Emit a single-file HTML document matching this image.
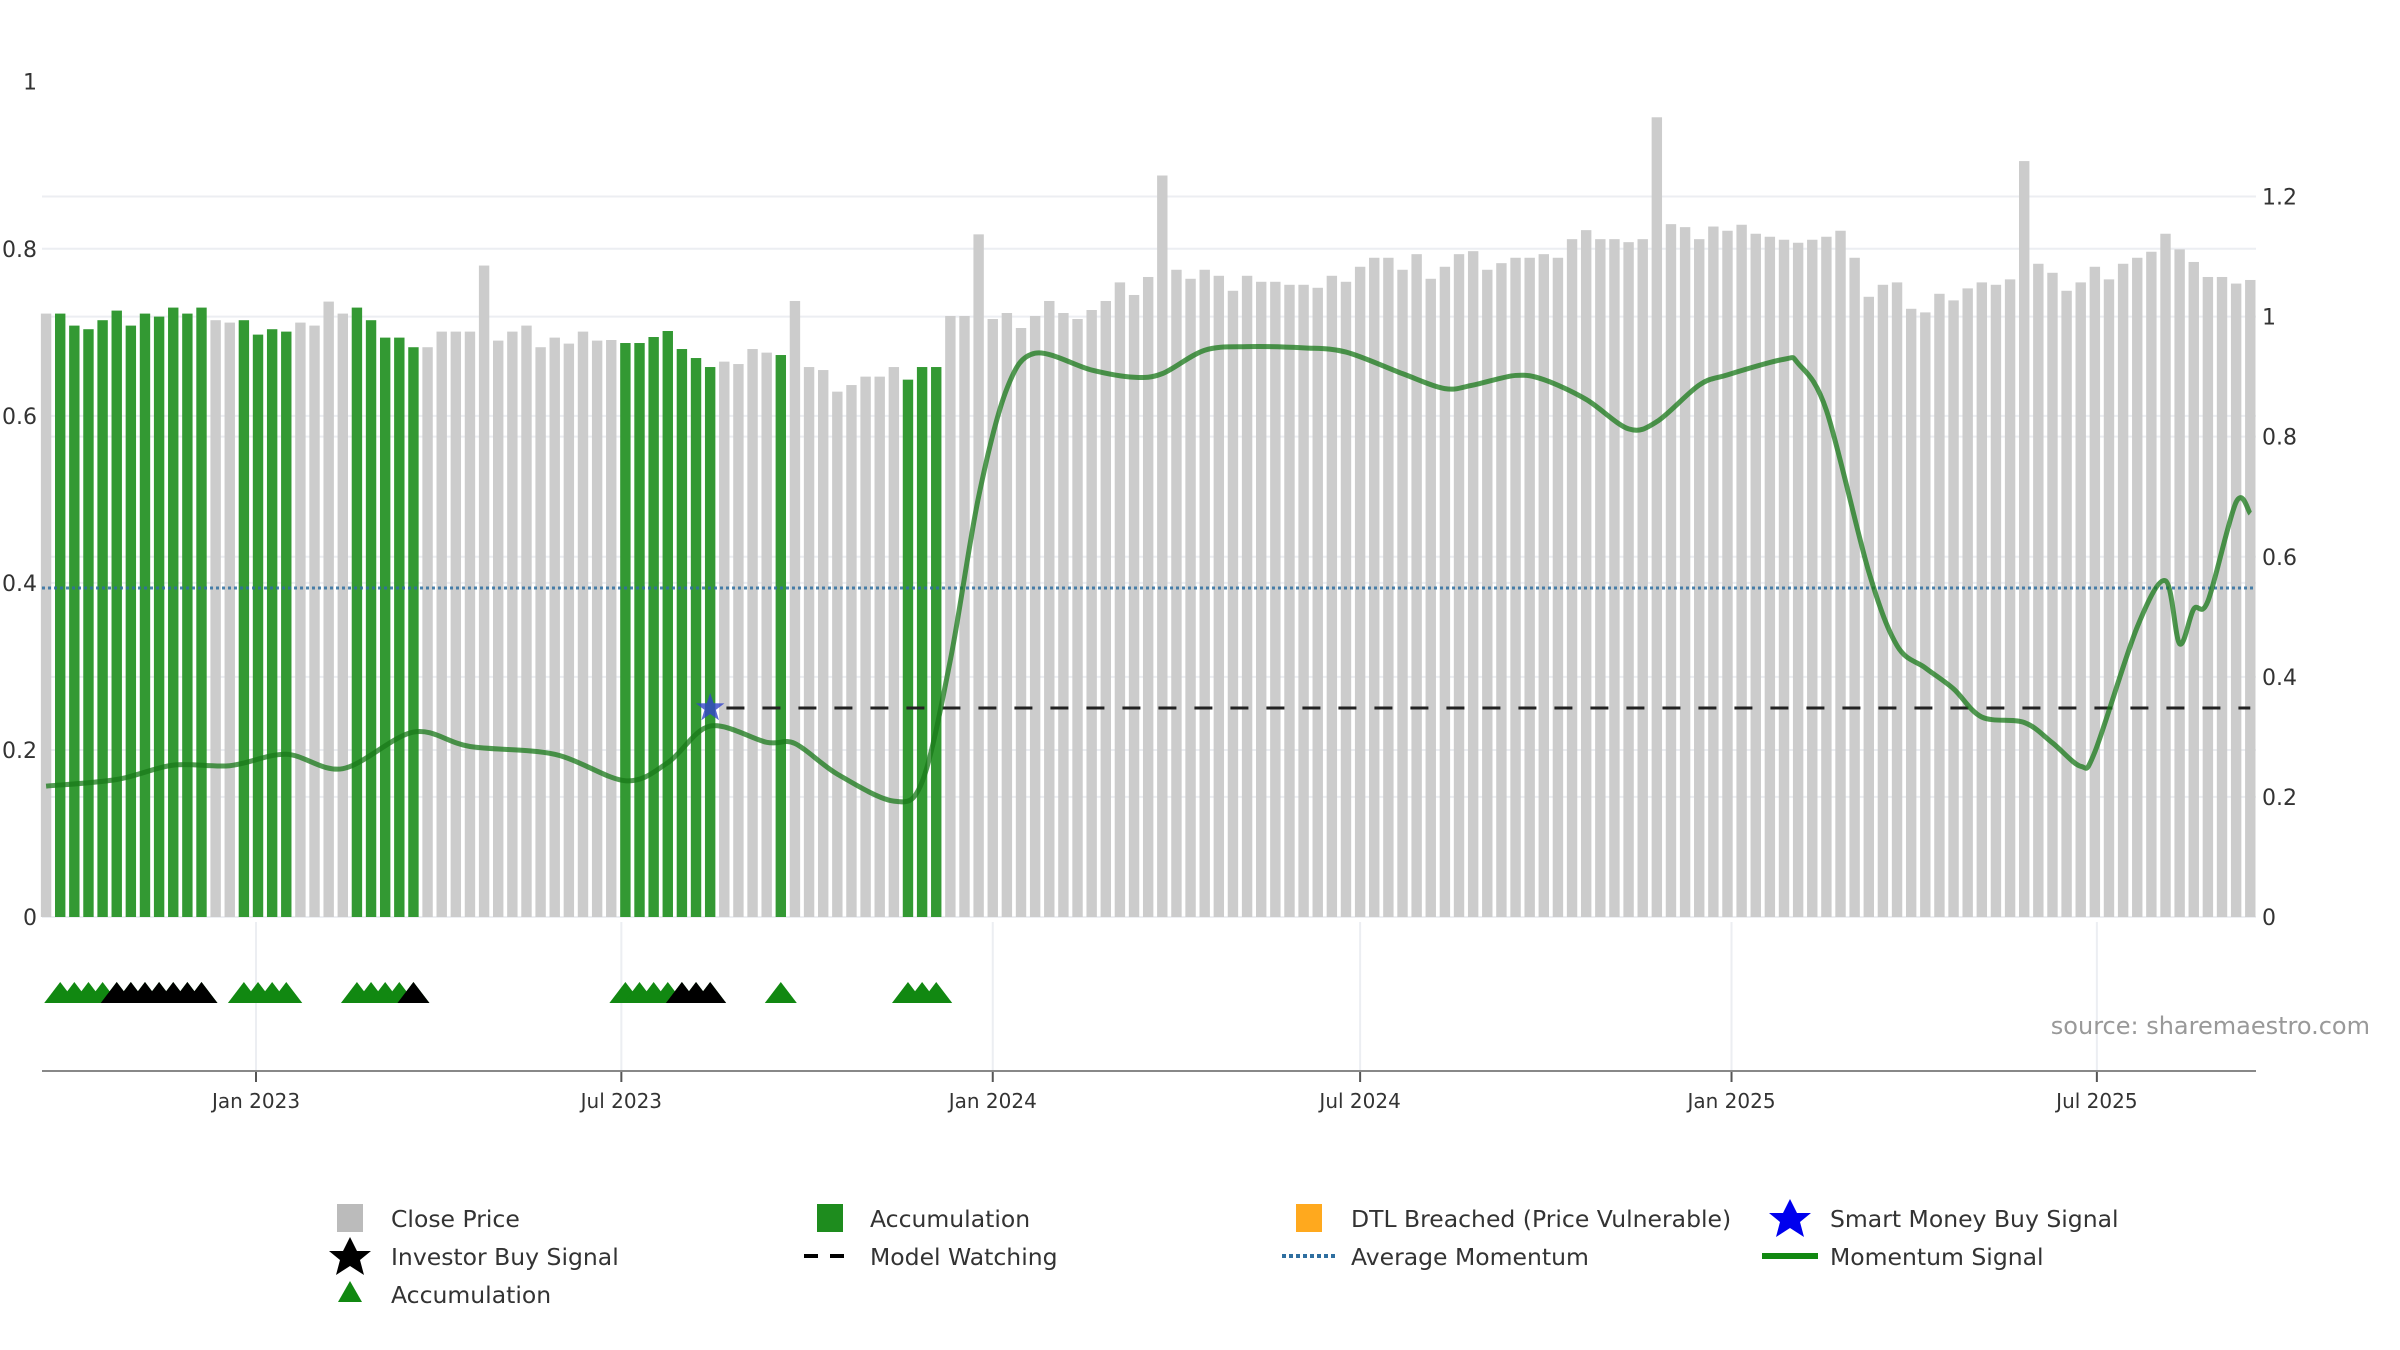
<!DOCTYPE html>
<html><head><meta charset="utf-8"><style>
html,body{margin:0;padding:0;background:#fff;}
svg{display:block;font-family:"DejaVu Sans","Liberation Sans",sans-serif;}
</style></head><body>
<svg id="chart" width="2400" height="1350" viewBox="0 0 2400 1350" xmlns="http://www.w3.org/2000/svg">
<g id="grid"></g>
<g id="bars"></g>
<g id="lines"></g>
<g id="signals"></g>
<g id="axes"></g>
<text x="2370" y="1034" text-anchor="end" font-size="24" fill="#999">source: sharemaestro.com</text>
<g id="legend" font-size="23.5" fill="#333">
  <g><rect x="337" y="1204" width="26" height="28" fill="#bbb"/><text x="391" y="1227">Close Price</text></g>
  <g><rect x="817" y="1204" width="26" height="28" fill="#1e8c1e"/><text x="870" y="1227">Accumulation</text></g>
  <g><rect x="1296" y="1204" width="26" height="28" fill="#ffa91e"/><text x="1351" y="1227">DTL Breached (Price Vulnerable)</text></g>
  <g><polygon points="1790,1199 1797,1213 1811,1213 1800,1222 1804,1237 1790,1228 1776,1237 1780,1222 1769,1213 1783,1213" fill="#0000ee"/><text x="1830" y="1227">Smart Money Buy Signal</text></g>
  <g><polygon points="350,1237 357,1251 371,1251 360,1260 364,1275 350,1266 336,1275 340,1260 329,1251 343,1251" fill="#000"/><text x="391" y="1265">Investor Buy Signal</text></g>
  <g><line x1="804" y1="1256" x2="856" y2="1256" stroke="#000" stroke-width="4" stroke-dasharray="14,12"/><text x="870" y="1265">Model Watching</text></g>
  <g><line x1="1282" y1="1256" x2="1336" y2="1256" stroke="#2f6fa0" stroke-width="4" stroke-dasharray="4,3"/><text x="1351" y="1265">Average Momentum</text></g>
  <g><line x1="1762" y1="1256" x2="1818" y2="1256" stroke="#118811" stroke-width="6"/><text x="1830" y="1265">Momentum Signal</text></g>
  <g><polygon points="350,1281 362,1302 338,1302" fill="#118811"/><text x="391" y="1303">Accumulation</text></g>
</g>
</svg>
<script>
// ---- data ----
const startDate = "2022-09-19";
const closePrice = [1.005,1.005,.985,.979,.994,1.010,.985,1.005,1.0,1.015,1.005,1.015,.994,.990,.994,.970,.979,.975,.990,.985,
1.025,1.005,1.015,.994,.965,.965,.949,.949,.975,.975,.975,1.085,.960,.975,.985,.949,.965,.955,.975,.960,
.961,.956,.956,.966,.976,.946,.931,.916,.925,.921,.946,.940,.936,1.026,.916,.911,.875,.886,.900,.900,
.916,.895,.916,.916,1.001,1.001,1.137,.996,1.006,.981,1.001,1.026,1.006,.996,1.011,1.026,1.057,1.036,1.066,1.235,
1.078,1.063,1.078,1.068,1.043,1.068,1.058,1.058,1.053,1.053,1.048,1.068,1.058,1.083,1.098,1.098,1.078,1.104,1.063,1.083,
1.104,1.109,1.078,1.089,1.098,1.098,1.104,1.098,1.129,1.144,1.129,1.129,1.124,1.129,1.332,1.154,1.149,1.129,1.150,1.143,
1.153,1.138,1.133,1.128,1.123,1.128,1.133,1.143,1.098,1.033,1.053,1.057,1.013,1.007,1.038,1.027,1.047,1.057,1.053,1.062,
1.259,1.088,1.073,1.043,1.057,1.083,1.062,1.088,1.098,1.108,1.138,1.112,1.091,1.066,1.066,1.055,1.061];
const accumulationWeeks = [2,3,4,5,6,7,8,9,10,11,12,15,16,17,18,23,24,25,26,27,42,43,44,45,46,47,48,53,62,63,64];
const investorBuyWeeks = [6,7,8,9,10,11,12,27,46,47,48];
const smartMoneyWeeks = [48];
const momWeeks = [1,6,10,14,18,22,27,31,37,42,45,48,52,54,57,61,63,65,67,69,71,75,78,80,83,86,90,93,97,100,102,105,107,110,113,115,118,120,124,125,127,130,132,134,136,138,141,143,145,146,149,151,152,153,154,156,157];
const momValues = [.218,.229,.253,.252,.271,.247,.308,.284,.271,.227,.257,.318,.291,.289,.238,.193,.225,.428,.70,.88,.939,.911,.899,.905,.944,.950,.948,.941,.905,.880,.886,.902,.895,.862,.813,.825,.886,.903,.929,.922,.844,.575,.452,.415,.38,.333,.324,.29,.251,.275,.483,.560,.455,.513,.526,.691,.672];
const averageMomentum = 0.548;
const modelWatching = 0.348;
const modelWatchStartWeek = 50;
const leftTicks = ["0","0.2","0.4","0.6","0.8","1"];
const rightTicks = ["0","0.2","0.4","0.6","0.8","1","1.2"];
const xTickLabels = ["Jan 2023","Jul 2023","Jan 2024","Jul 2024","Jan 2025","Jul 2025"];
const xTickDates = ["2023-01-01","2023-07-01","2024-01-01","2024-07-01","2025-01-01","2025-07-01"];

// ---- scales ----
const NS="http://www.w3.org/2000/svg";
const DAY=86400000, X0=Date.parse("2023-01-01"), PXDAY=2.0185;
const Y0=917, AXIS_Y=1071;
function xDate(d){return 256+(Date.parse(d)-X0)/DAY*PXDAY;}
function xWeek(n){return 256+((Date.parse(startDate)-X0)/DAY+(n-1)*7)*PXDAY;}
function yR(v){return Y0-v*600.4;}
function yL(v){return Y0-v*835.3;}
function mk(tag,attrs,parent){const e=document.createElementNS(NS,tag);for(const k in attrs)e.setAttribute(k,attrs[k]);parent.appendChild(e);return e;}
const grid=document.getElementById('grid'),bars=document.getElementById('bars'),lines=document.getElementById('lines'),sig=document.getElementById('signals'),axes=document.getElementById('axes');

// gridlines + tick labels
leftTicks.forEach(t=>{const v=parseFloat(t);if(v<1){const l=mk('line',{x1:42,x2:2256,y1:yL(v),y2:yL(v),stroke:'#eceef2','stroke-width':2},grid);

}
const tx=mk('text',{x:37,y:yL(v)+8,'text-anchor':'end','font-size':22,fill:'#333'},axes);tx.textContent=t;

});
rightTicks.forEach(t=>{const v=parseFloat(t);if(v>0){const l=mk('line',{x1:42,x2:2256,y1:yR(v),y2:yR(v),stroke:'#eceef2','stroke-width':2},grid);

}
const tx=mk('text',{x:2262,y:yR(v)+8,'font-size':22,fill:'#333'},axes);tx.textContent=t;

});
xTickDates.forEach((d,i)=>{const x=xDate(d);
const g=mk('line',{x1:x,x2:x,y1:922,y2:AXIS_Y,stroke:'#eceef2','stroke-width':2},grid);


const tk=mk('line',{x1:x,x2:x,y1:AXIS_Y,y2:AXIS_Y+11,stroke:'#555','stroke-width':2},axes);


const tx=mk('text',{x:x,y:AXIS_Y+37,'text-anchor':'middle','font-size':20,fill:'#333'},axes);tx.textContent=xTickLabels[i];

});
const ax=mk('line',{x1:42,x2:2256,y1:AXIS_Y,y2:AXIS_Y,stroke:'#888','stroke-width':2},axes);



// bars
closePrice.forEach((v,i)=>{const n=i+1;const acc=accumulationWeeks.includes(n);
const r=mk('rect',{x:xWeek(n)-5.2,y:yR(v),width:10.4,height:Y0-yR(v),fill:acc?'#339933':'#cccccc'},bars);

});

// average momentum & model watching
const am=mk('line',{x1:42,x2:2256,y1:yR(averageMomentum),y2:yR(averageMomentum),stroke:'#2f6fa0','stroke-width':3,'stroke-dasharray':'3,3',opacity:.85},lines);


const mw=mk('line',{x1:xWeek(modelWatchStartWeek)-12,x2:xWeek(closePrice.length),y1:yR(modelWatching),y2:yR(modelWatching),stroke:'#222','stroke-width':3,'stroke-dasharray':'18,18'},lines);



// momentum smooth path
const pts=momWeeks.map((n,i)=>[xWeek(n),yR(momValues[i])]);
let d='M'+pts[0][0]+','+pts[0][1];
for(let i=0;i<pts.length-1;i++){const p0=pts[Math.max(0,i-1)],p1=pts[i],p2=pts[i+1],p3=pts[Math.min(pts.length-1,i+2)];
const t=0.16;d+=' C'+(p1[0]+(p2[0]-p0[0])*t)+','+(p1[1]+(p2[1]-p0[1])*t)+' '+(p2[0]-(p3[0]-p1[0])*t)+','+(p2[1]-(p3[1]-p1[1])*t)+' '+p2[0]+','+p2[1];}
const ml=mk('path',{d:d,fill:'none',stroke:'#1a7a1a','stroke-width':5,opacity:.75,'stroke-linejoin':'round'},lines);



// signals
function tri(n,color,name){const x=xWeek(n);const p=mk('polygon',{points:(x)+',982 '+(x+16)+',1003 '+(x-16)+',1003',fill:color},sig);

}
accumulationWeeks.forEach(n=>tri(n,'#118811','accumulation-signal'));
investorBuyWeeks.forEach(n=>tri(n,'#000','investor-buy-signal'));
smartMoneyWeeks.forEach(n=>{const x=xWeek(n),y=yR(modelWatching);const s=[];for(let k=0;k<10;k++){const r=k%2?6:15,a=-Math.PI/2+k*Math.PI/5;s.push((x+r*Math.cos(a))+','+(y+r*Math.sin(a)));}
const st=mk('polygon',{points:s.join(' '),fill:'#3344cc',opacity:.8},sig);

});
</script>
</body></html>
